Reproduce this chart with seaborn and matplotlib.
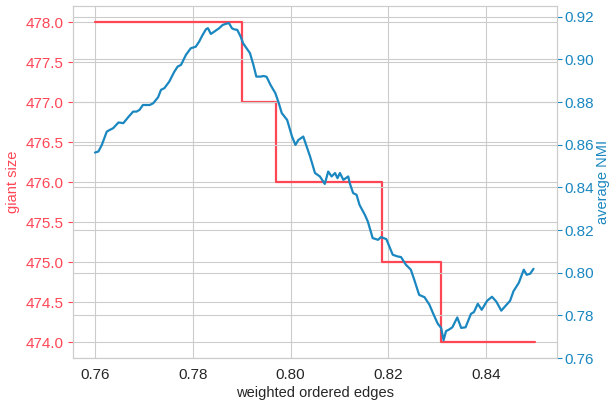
import matplotlib
matplotlib.use("Agg")
import matplotlib.pyplot as plt
import seaborn as sns
import pandas as pd
from matplotlib.ticker import FormatStrFormatter, MultipleLocator

# ---- data ----
giant_x = [0.7600, 0.7900, 0.7971, 0.8187, 0.8308, 0.8500]
giant_size = [478, 477, 476, 475, 474, 474]

nmi_x = [0.7600, 0.7607, 0.7614, 0.7624, 0.7630, 0.7637, 0.7648, 0.7658, 0.7668, 0.7678,
         0.7685, 0.7691, 0.7698, 0.7712, 0.7719, 0.7729, 0.7735, 0.7742, 0.7752, 0.7762,
         0.7769, 0.7776, 0.7786, 0.7796, 0.7806, 0.7813, 0.7820, 0.7827, 0.7831, 0.7837,
         0.7844, 0.7854, 0.7861, 0.7867, 0.7874, 0.7880, 0.7884, 0.7891, 0.7898, 0.7903,
         0.7910, 0.7917, 0.7924, 0.7930, 0.7939, 0.7945, 0.7951, 0.7959, 0.7969, 0.7976,
         0.7982, 0.7993, 0.8003, 0.8010, 0.8016, 0.8026, 0.8033, 0.8040, 0.8050, 0.8060,
         0.8070, 0.8077, 0.8084, 0.8091, 0.8096, 0.8101, 0.8108, 0.8118, 0.8121, 0.8128,
         0.8135, 0.8141, 0.8152, 0.8158, 0.8168, 0.8179, 0.8185, 0.8196, 0.8202, 0.8209,
         0.8219, 0.8226, 0.8236, 0.8246, 0.8253, 0.8263, 0.8274, 0.8284, 0.8291, 0.8301,
         0.8308, 0.8313, 0.8318, 0.8324, 0.8331, 0.8341, 0.8349, 0.8358, 0.8369, 0.8375,
         0.8383, 0.8391, 0.8402, 0.8412, 0.8421, 0.8431, 0.8440, 0.8449, 0.8456, 0.8467,
         0.8477, 0.8483, 0.8490, 0.8497]
avg_nmi = [0.8563, 0.8568, 0.8599, 0.8661, 0.8669, 0.8677, 0.8704, 0.8701, 0.8729, 0.8755,
           0.8755, 0.8763, 0.8786, 0.8786, 0.8794, 0.8822, 0.8857, 0.8865, 0.8896, 0.8941,
           0.8966, 0.8974, 0.9021, 0.9052, 0.9059, 0.9083, 0.9114, 0.9141, 0.9146, 0.9119,
           0.9130, 0.9146, 0.9161, 0.9166, 0.9170, 0.9146, 0.9141, 0.9138, 0.9106, 0.9075,
           0.9052, 0.9029, 0.8974, 0.8919, 0.8919, 0.8922, 0.8918, 0.8880, 0.8841, 0.8794,
           0.8748, 0.8716, 0.8638, 0.8599, 0.8622, 0.8638, 0.8591, 0.8544, 0.8467, 0.8451,
           0.8416, 0.8474, 0.8451, 0.8467, 0.8443, 0.8467, 0.8435, 0.8451, 0.8420, 0.8373,
           0.8365, 0.8318, 0.8271, 0.8240, 0.8162, 0.8154, 0.8167, 0.8157, 0.8123, 0.8084,
           0.8076, 0.8073, 0.8037, 0.8014, 0.7967, 0.7896, 0.7885, 0.7850, 0.7812, 0.7761,
           0.7741, 0.7683, 0.7726, 0.7733, 0.7744, 0.7790, 0.7741, 0.7744, 0.7807, 0.7815,
           0.7854, 0.7826, 0.7868, 0.7887, 0.7864, 0.7822, 0.7845, 0.7868, 0.7913, 0.7953,
           0.8014, 0.7990, 0.7995, 0.8018]

x_label = "weighted ordered edges"
left_label = "giant size"
right_label = "average NMI"

RED = "#ff4655"
BLUE = "#1a87c0"

sns.set_style("whitegrid", {"axes.edgecolor": ".8", "grid.color": ".8"})
plt.rcParams["font.family"] = ["Liberation Sans", "DejaVu Sans"]

fig = plt.figure(figsize=(6.1, 4.03), dpi=100)
ax = fig.add_axes([73 / 610, 1 - 358 / 403, (557 - 73) / 610, (358 - 6) / 403])

df_g = pd.DataFrame({"x": giant_x, "giant": giant_size})
df_n = pd.DataFrame({"x": nmi_x, "nmi": avg_nmi})

sns.lineplot(data=df_g, x="x", y="giant", ax=ax, color=RED, lw=1.6,
             drawstyle="steps-post", estimator=None)
ax.set_xlim(0.7555, 0.8545)
ax.set_ylim(473.8, 478.2)
ax.yaxis.set_major_locator(MultipleLocator(0.5))
ax.yaxis.set_major_formatter(FormatStrFormatter("%.1f"))
ax.xaxis.set_major_locator(MultipleLocator(0.02))
ax.xaxis.set_major_formatter(FormatStrFormatter("%.2f"))
ax.set_xlabel(x_label, fontsize=10.5, color=".15", labelpad=3)
ax.set_ylabel(left_label, fontsize=10.5, color=RED, labelpad=4)
ax.tick_params(axis="y", colors=RED, labelsize=11, pad=3)
ax.tick_params(axis="x", colors=".15", labelsize=11)

ax2 = ax.twinx()
sns.lineplot(data=df_n, x="x", y="nmi", ax=ax2, color=BLUE, lw=1.6, estimator=None)
ax2.set_ylim(0.760, 0.925)
ax2.yaxis.set_major_locator(MultipleLocator(0.02))
ax2.yaxis.set_major_formatter(FormatStrFormatter("%.2f"))
ax2.set_ylabel(right_label, fontsize=10.5, color=BLUE, labelpad=2)
ax2.tick_params(axis="y", colors=BLUE, labelsize=11, pad=1.5)
ax2.grid(True, color=".8")
for s in ax2.spines.values():
    s.set_color(".8")

fig.savefig("out.png", dpi=100)
